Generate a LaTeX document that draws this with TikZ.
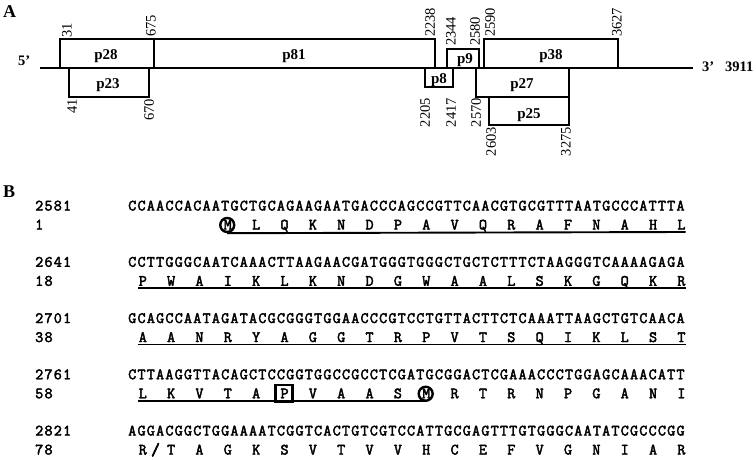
\documentclass[tikz,border=0pt]{standalone}
\usepackage{fontspec}
\setmainfont{Liberation Serif}
\newfontfamily\monof[FakeBold=2.6, LetterSpace=7.5]{Latin Modern Mono}
\tikzset{
  orfbox/.style={draw, line width=1.5pt},
  orflbl/.style={font=\bfseries\fontsize{15}{15}\selectfont, inner sep=0pt, anchor=base},
  endlbl/.style={font=\bfseries\fontsize{14.5}{14.5}\selectfont, inner sep=0pt, anchor=base west},
  numup/.style={rotate=90, anchor=west, inner sep=0pt, font=\fontsize{14.5}{14.5}\selectfont},
  numdn/.style={rotate=90, anchor=east, inner sep=0pt, font=\fontsize{14.5}{14.5}\selectfont},
  panel/.style={font=\bfseries\fontsize{18}{18}\selectfont, inner sep=0pt, anchor=base west},
  dna/.style={font=\monof\fontsize{15.75}{15.75}\selectfont, inner sep=0pt, anchor=base west},
  aa/.style={font=\monof\fontsize{15.75}{15.75}\selectfont, inner sep=0pt, anchor=base},
  ul/.style={line width=1.9pt},
  circmark/.style={draw, circle, line width=2.4pt, minimum size=14pt, inner sep=0pt},
  sqmark/.style={draw, line width=2.4pt, minimum width=17pt, minimum height=17pt, inner sep=0pt},
}
\begin{document}
\begin{tikzpicture}[x=1pt, y=-1pt]
\useasboundingbox (0,0) rectangle (756,460);
\fill[white] (0,0) rectangle (756,460);

% ---------- Panel A ----------
\node[panel] (pA) at (3,18) {A};

% genome line
\coordinate (g5) at (40,68);
\coordinate (g3) at (693,68);
\draw[line width=2.5pt] (g5) -- (g3);
\node[endlbl] (five) at (18,66) {5’};
\node[endlbl] (three) at (702,72) {3’};
\node[endlbl] (len) at (725,72) {3911};

% boxes
\draw[orfbox] (60,68) rectangle (154,39);   % p28
\draw[orfbox] (154,68) rectangle (435,39);  % p81
\draw[orfbox] (69,68) rectangle (149,97);   % p23
\draw[orfbox] (425,68) rectangle (453,87);  % p8
\draw[orfbox] (447,68) rectangle (479,49);  % p9
\draw[orfbox] (484,68) rectangle (618,39);  % p38
\draw[orfbox] (476,68) rectangle (569,97);  % p27
\draw[orfbox] (489,97) rectangle (569,125); % p25

\node[orflbl] (l28) at (106,60) {p28};
\node[orflbl] (l81) at (294,60) {p81};
\node[orflbl] (l23) at (108,89) {p23};
\node[orflbl] (l8)  at (439,84) {p8};
\node[orflbl] (l9)  at (465,64) {p9};
\node[orflbl] (l38) at (551,60) {p38};
\node[orflbl] (l27) at (522,89) {p27};
\node[orflbl] (l25) at (529,118) {p25};

% coordinates (above)
\node[numup] (n31)   at (67,38)  {31};
\node[numup] (n675)  at (151,37) {675};
\node[numup] (n2238) at (430,37) {2238};
\node[numup] (n2344) at (451,46) {2344};
\node[numup] (n2580) at (475,46) {2580};
\node[numup] (n2590) at (490,37) {2590};
\node[numup] (n3627) at (617,37) {3627};
% coordinates (below)
\node[numdn] (n41)   at (72,99)  {41};
\node[numdn] (n670)  at (149,99) {670};
\node[numdn] (n2205) at (425,98) {2205};
\node[numdn] (n2417) at (451,98) {2417};
\node[numdn] (n2570) at (476,98) {2570};
\node[numdn] (n2603) at (491,127) {2603};
\node[numdn] (n3275) at (566,127) {3275};

% ---------- Panel B ----------
\node[panel] (pB) at (3,197) {B};

\foreach \r/\n/\p/\s in {
  0/2581/1/CCAACCACAATGCTGCAGAAGAATGACCCAGCCGTTCAACGTGCGTTTAATGCCCATTTA,
  1/2641/18/CCTTGGGCAATCAAACTTAAGAACGATGGGTGGGCTGCTCTTTCTAAGGGTCAAAAGAGA,
  2/2701/38/GCAGCCAATAGATACGCGGGTGGAACCCGTCCTGTTACTTCTCAAATTAAGCTGTCAACA,
  3/2761/58/CTTAAGGTTACAGCTCCGGTGGCCGCCTCGATGCGGACTCGAAACCCTGGAGCAAACATT,
  4/2821/78/AGGACGGCTGGAAAATCGGTCACTGTCGTCCATTGCGAGTTTGTGGGCAATATCGCCCGG}{
  \node[dna] (num-\r) at (35,{206+56.25*\r+4.5}) {\n};
  \node[dna] (pnum-\r) at (35,{225+56.25*\r+4.5}) {\p};
  \node[dna] (seq-\r) at (128,{206+56.25*\r+4.5}) {\s};
}

\foreach \r/\st/\L in {
  0/11/{M,L,Q,K,N,D,P,A,V,Q,R,A,F,N,A,H,L},
  1/2/{P,W,A,I,K,L,K,N,D,G,W,A,A,L,S,K,G,Q,K,R},
  2/2/{A,A,N,R,Y,A,G,G,T,R,P,V,T,S,Q,I,K,L,S,T},
  3/2/{L,K,V,T,A,P,V,A,A,S,M,R,T,R,N,P,G,A,N,I},
  4/2/{R,T,A,G,K,S,V,T,V,V,H,C,E,F,V,G,N,I,A,R}}{
  \foreach \c [count=\i from 0] in \L {
    \node[aa] (aa-\r-\i) at ({128.6+(\st-0.5+3*\i)*9.45},{225+56.25*\r+4.5}) {\c};
  }
}

% marks
\coordinate (cM1) at ({128+10.5*9.45},225);
\coordinate (cM2) at ({128+31.5*9.45},{225+56.25*3});
\coordinate (cP) at ({128+16.5*9.45},{225+56.25*3});
\node[circmark] (Mone) at (cM1) {};
\node[circmark] (Mtwo) at (cM2) {};
\node[sqmark] (Pbox) at (cP) {};
\node[font=\monof\fontsize{17}{17}\selectfont, inner sep=0pt, anchor=base] (slash) at (155.5,{225+56.25*4+5}) {\addfontfeature{FakeBold=4}/};

% underlines
\coordinate (u0e) at (685.5,232);
\coordinate (u1s) at (137.5,288.25);
\coordinate (u1e) at (685.5,288.25);
\coordinate (u2s) at (137.5,344.5);
\coordinate (u2e) at (685.5,344.5);
\coordinate (u3s) at (137.5,400.75);
\draw[ul] (Mone.south) -- (u0e);
\draw[ul] (u1s) -- (u1e);
\draw[ul] (u2s) -- (u2e);
\draw[ul] (u3s) -- (u3s -| Mtwo.south);
\end{tikzpicture}
\end{document}
